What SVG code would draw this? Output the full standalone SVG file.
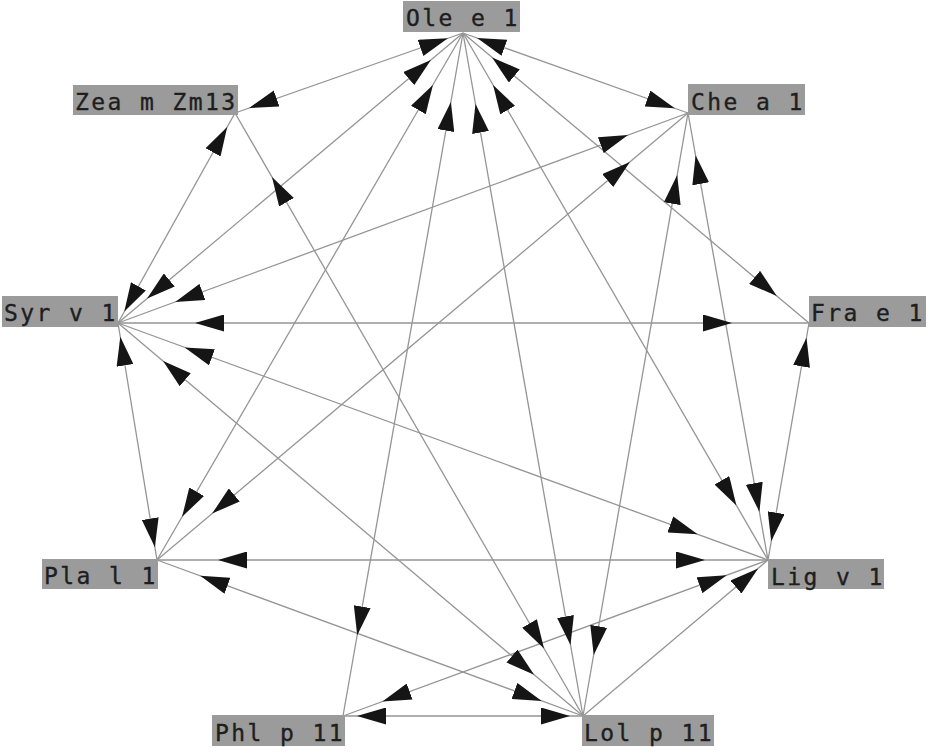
<svg xmlns="http://www.w3.org/2000/svg" width="936" height="756" viewBox="0 0 936 756">
<style>
.e{stroke:#959595;stroke-width:1.3;fill:none}
.a{stroke:none;fill:none;marker-end:url(#ah)}
.box{fill:#9b9b9b}
.lbl{font-family:"DejaVu Sans Mono","Liberation Mono",monospace;font-size:23px;fill:#1e1e1e;stroke:#1e1e1e;stroke-width:0.35;letter-spacing:2.4px}
</style>
<defs>
<marker id="ah" markerUnits="userSpaceOnUse" markerWidth="29" markerHeight="17" viewBox="0 0 29 17" refX="29" refY="8.5" orient="auto"><path d="M0,0 L29,8.5 L0,17 z" fill="#151515"/></marker>
</defs>
<rect width="936" height="756" fill="#fff"/>
<g id="connectors">
<line class="e" x1="463" y1="33" x2="235" y2="113"/>
<line class="e" x1="463" y1="33" x2="688" y2="113"/>
<line class="e" x1="463" y1="33" x2="118" y2="323"/>
<line class="e" x1="463" y1="33" x2="809" y2="323"/>
<line class="e" x1="463" y1="33" x2="157" y2="560"/>
<line class="e" x1="463" y1="33" x2="768" y2="560"/>
<line class="e" x1="463" y1="33" x2="343" y2="716"/>
<line class="e" x1="463" y1="33" x2="583" y2="716"/>
<line class="e" x1="235" y1="113" x2="118" y2="323"/>
<line class="e" x1="235" y1="113" x2="583" y2="716"/>
<line class="e" x1="688" y1="113" x2="118" y2="323"/>
<line class="e" x1="688" y1="113" x2="157" y2="560"/>
<line class="e" x1="688" y1="113" x2="583" y2="716"/>
<line class="e" x1="688" y1="113" x2="768" y2="560"/>
<line class="e" x1="118" y1="323" x2="809" y2="323"/>
<line class="e" x1="118" y1="323" x2="157" y2="560"/>
<line class="e" x1="118" y1="323" x2="768" y2="560"/>
<line class="e" x1="118" y1="323" x2="583" y2="716"/>
<line class="e" x1="809" y1="323" x2="768" y2="560"/>
<line class="e" x1="157" y1="560" x2="768" y2="560"/>
<line class="e" x1="157" y1="560" x2="583" y2="716"/>
<line class="e" x1="768" y1="560" x2="343" y2="716"/>
<line class="e" x1="768" y1="560" x2="583" y2="716"/>
<line class="e" x1="343" y1="716" x2="583" y2="716"/>
<path class="a" d="M235,113 L447.9,38.3"/>
<path class="a" d="M118,323 L430.9,60"/>
<path class="a" d="M157,560 L432.9,84.9"/>
<path class="a" d="M343,716 L450.9,102"/>
<path class="a" d="M583,716 L475.5,103.9"/>
<path class="a" d="M768,560 L493.1,85"/>
<path class="a" d="M809,323 L492.1,57.4"/>
<path class="a" d="M688,113 L477.1,38"/>
<path class="a" d="M463,33 L249.2,108"/>
<path class="a" d="M118,323 L227.2,127"/>
<path class="a" d="M583,716 L272,177.1"/>
<path class="a" d="M463,33 L674.8,108.3"/>
<path class="a" d="M118,323 L628,135.1"/>
<path class="a" d="M157,560 L629.9,161.9"/>
<path class="a" d="M583,716 L677.2,175.1"/>
<path class="a" d="M768,560 L695.6,155.3"/>
<path class="a" d="M235,113 L124.3,311.6"/>
<path class="a" d="M463,33 L147.1,298.6"/>
<path class="a" d="M688,113 L175.2,301.9"/>
<path class="a" d="M809,323 L195,323"/>
<path class="a" d="M768,560 L184.7,347.4"/>
<path class="a" d="M583,716 L163.1,361.1"/>
<path class="a" d="M157,560 L120.3,336.8"/>
<path class="a" d="M463,33 L776.8,296"/>
<path class="a" d="M118,323 L732,323"/>
<path class="a" d="M768,560 L806.5,337.8"/>
<path class="a" d="M118,323 L154.9,547.2"/>
<path class="a" d="M463,33 L182.1,516.8"/>
<path class="a" d="M688,113 L212.1,513.6"/>
<path class="a" d="M768,560 L218,560"/>
<path class="a" d="M583,716 L200.2,575.8"/>
<path class="a" d="M463,33 L736.4,505.4"/>
<path class="a" d="M688,113 L759.4,511.8"/>
<path class="a" d="M809,323 L771.2,541.3"/>
<path class="a" d="M118,323 L697.6,534.3"/>
<path class="a" d="M157,560 L705,560"/>
<path class="a" d="M343,716 L726.7,575.2"/>
<path class="a" d="M583,716 L758.1,568.4"/>
<path class="a" d="M463,33 L357.2,635.2"/>
<path class="a" d="M768,560 L382.4,701.5"/>
<path class="a" d="M583,716 L357,716"/>
<path class="a" d="M235,113 L544,648.5"/>
<path class="a" d="M463,33 L570.5,645.1"/>
<path class="a" d="M688,113 L593.7,654.9"/>
<path class="a" d="M118,323 L534.1,674.7"/>
<path class="a" d="M157,560 L541.7,700.9"/>
<path class="a" d="M343,716 L570,716"/>
</g>
<g id="ole"><rect class="box" x="403" y="1" width="117" height="31"/><text class="lbl" x="406" y="26">Ole e 1</text></g>
<g id="zea"><rect class="box" x="73" y="85" width="165" height="30"/><text class="lbl" x="75" y="110">Zea m Zm13</text></g>
<g id="che"><rect class="box" x="688" y="84" width="117" height="31"/><text class="lbl" x="691" y="110">Che a 1</text></g>
<g id="syr"><rect class="box" x="2" y="296" width="116" height="31"/><text class="lbl" x="4" y="321">Syr v 1</text></g>
<g id="fra"><rect class="box" x="809" y="296" width="117" height="31"/><text class="lbl" x="811" y="321">Fra e 1</text></g>
<g id="pla"><rect class="box" x="42" y="559" width="116" height="30"/><text class="lbl" x="44" y="584">Pla l 1</text></g>
<g id="lig"><rect class="box" x="768" y="559" width="116" height="30"/><text class="lbl" x="771" y="585">Lig v 1</text></g>
<g id="phl"><rect class="box" x="212" y="715" width="133" height="31"/><text class="lbl" x="215" y="741">Phl p 11</text></g>
<g id="lol"><rect class="box" x="582" y="715" width="132" height="31"/><text class="lbl" x="584" y="741">Lol p 11</text></g>
</svg>
